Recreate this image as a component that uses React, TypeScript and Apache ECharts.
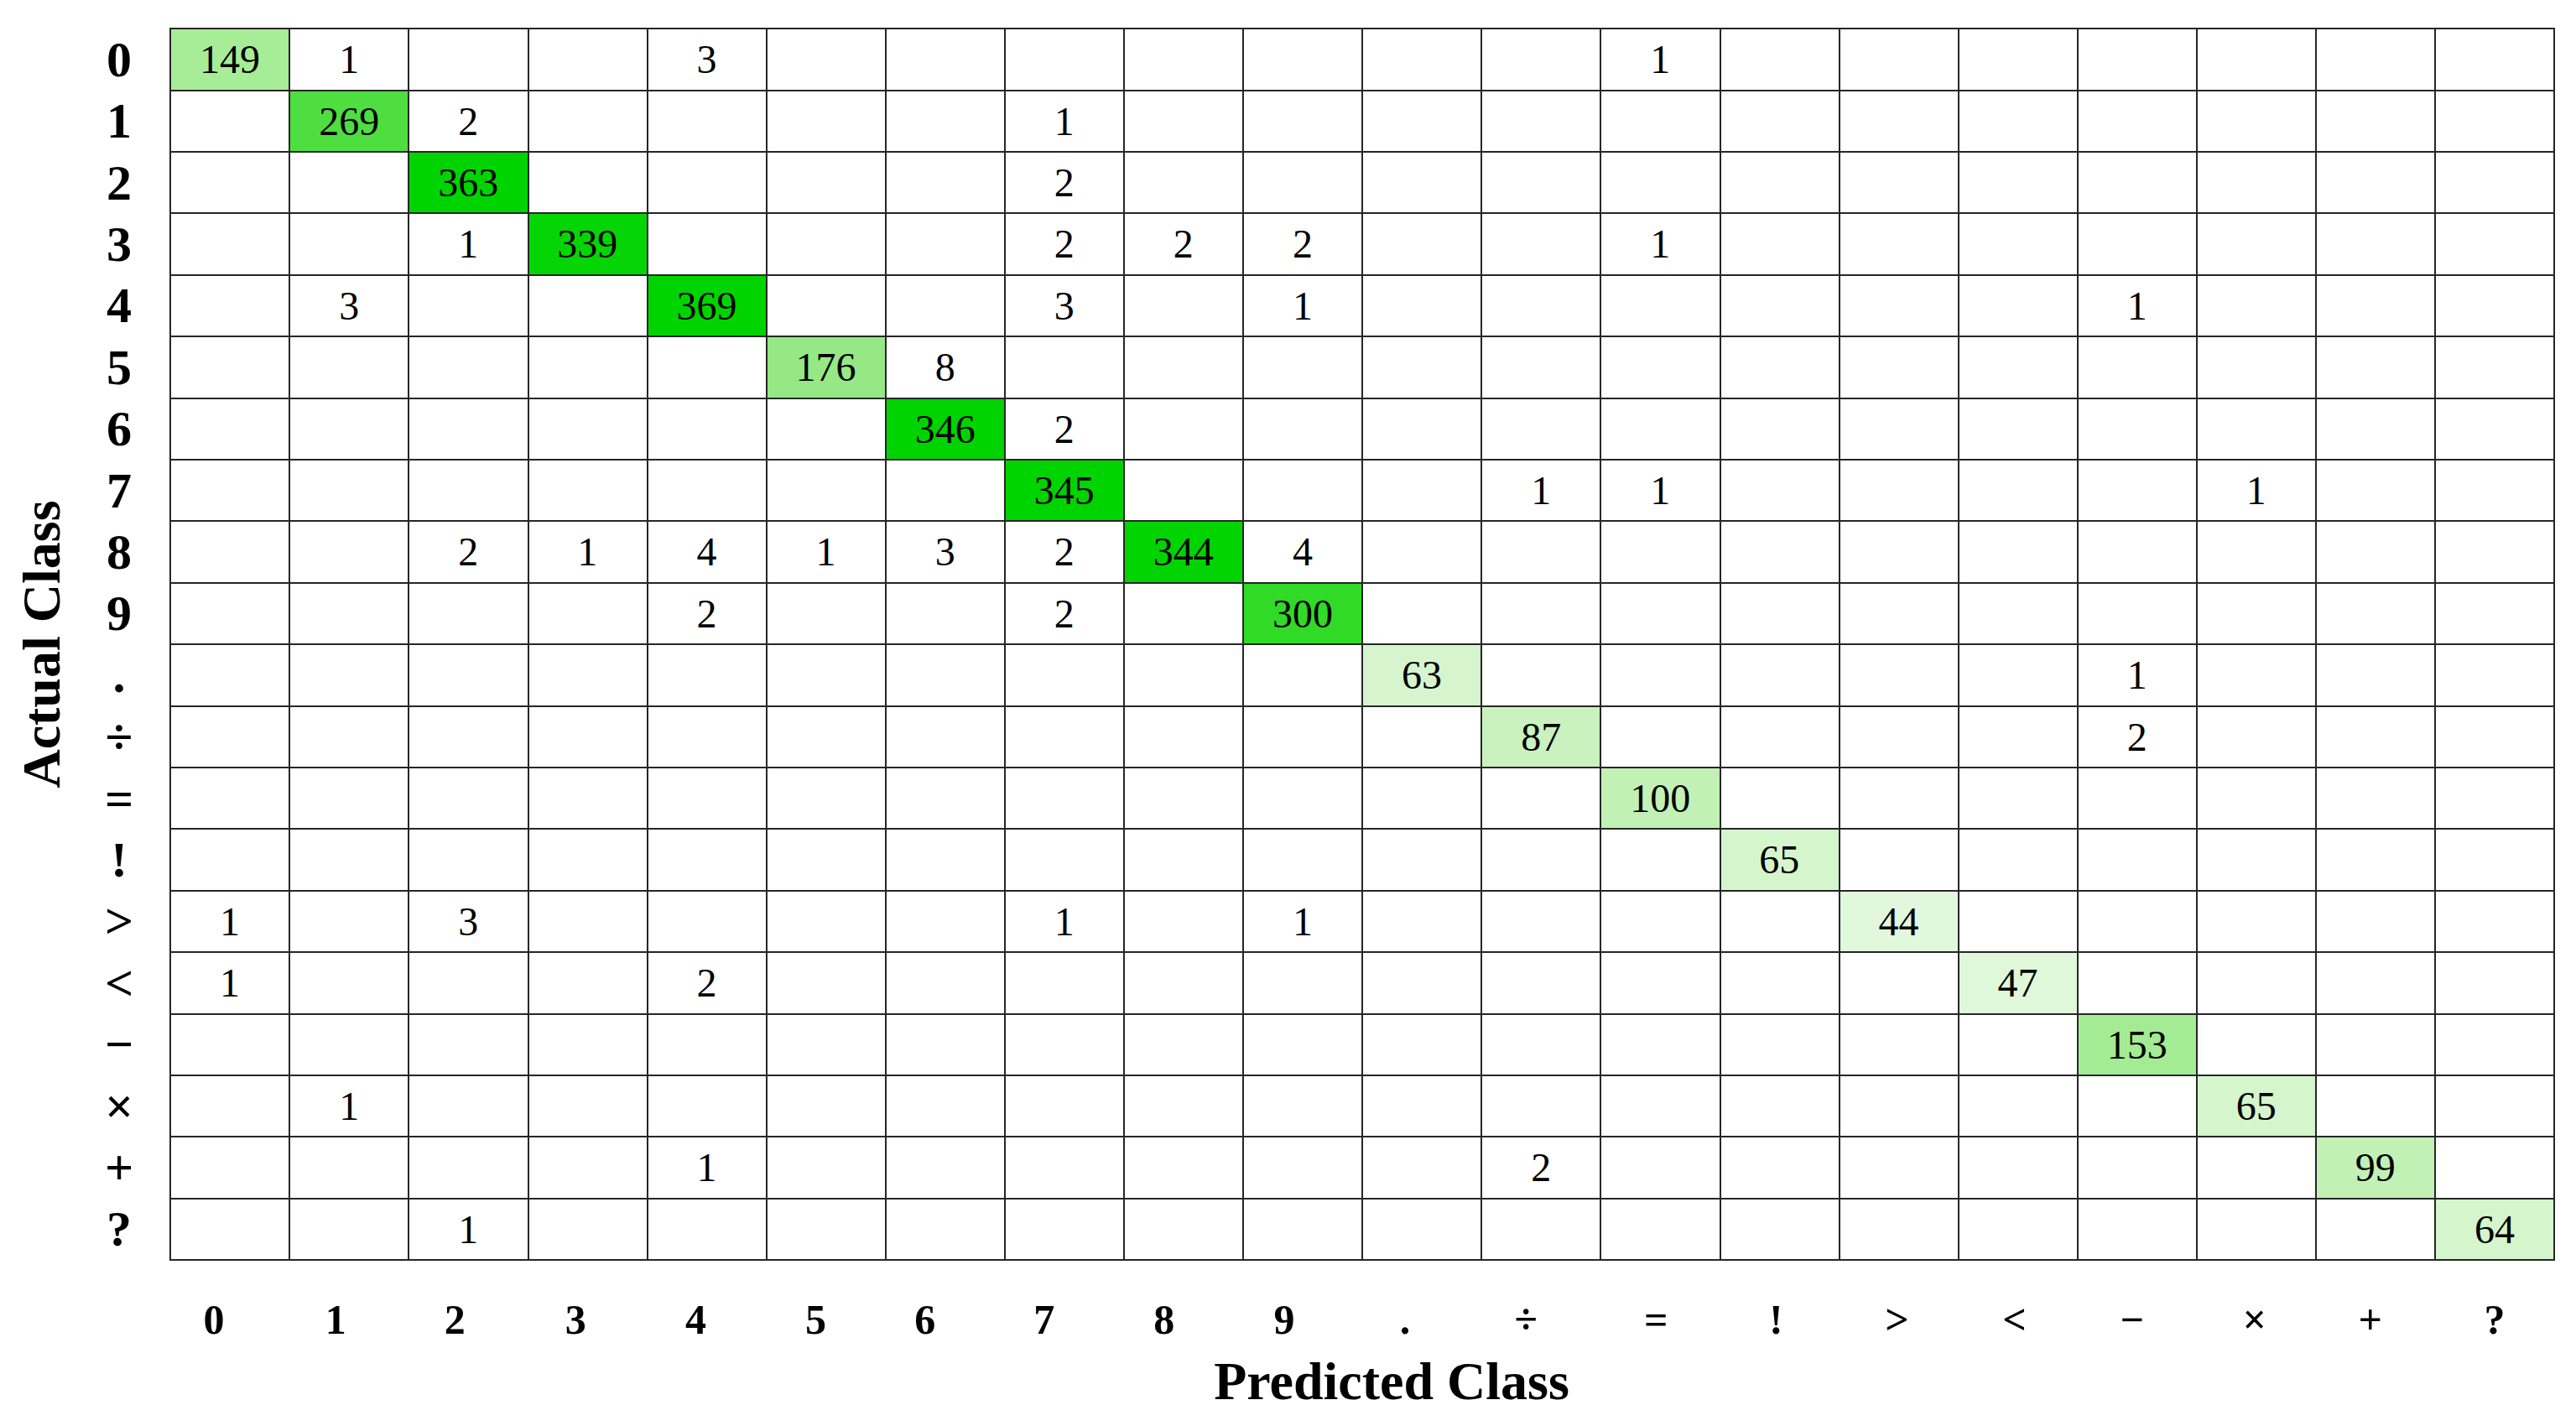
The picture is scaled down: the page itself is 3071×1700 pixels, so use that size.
import React, { useEffect, useRef } from "react";
import * as echarts from "echarts";

const classLabels = ["0", "1", "2", "3", "4", "5", "6", "7", "8", "9", ".", "÷", "=", "!", ">", "<", "−", "×", "+", "?"];

// rows = actual class, columns = predicted class
const counts: number[][] = [
  [149, 1, 0, 0, 3, 0, 0, 0, 0, 0, 0, 0, 1, 0, 0, 0, 0, 0, 0, 0],
  [0, 269, 2, 0, 0, 0, 0, 1, 0, 0, 0, 0, 0, 0, 0, 0, 0, 0, 0, 0],
  [0, 0, 363, 0, 0, 0, 0, 2, 0, 0, 0, 0, 0, 0, 0, 0, 0, 0, 0, 0],
  [0, 0, 1, 339, 0, 0, 0, 2, 2, 2, 0, 0, 1, 0, 0, 0, 0, 0, 0, 0],
  [0, 3, 0, 0, 369, 0, 0, 3, 0, 1, 0, 0, 0, 0, 0, 0, 1, 0, 0, 0],
  [0, 0, 0, 0, 0, 176, 8, 0, 0, 0, 0, 0, 0, 0, 0, 0, 0, 0, 0, 0],
  [0, 0, 0, 0, 0, 0, 346, 2, 0, 0, 0, 0, 0, 0, 0, 0, 0, 0, 0, 0],
  [0, 0, 0, 0, 0, 0, 0, 345, 0, 0, 0, 1, 1, 0, 0, 0, 0, 1, 0, 0],
  [0, 0, 2, 1, 4, 1, 3, 2, 344, 4, 0, 0, 0, 0, 0, 0, 0, 0, 0, 0],
  [0, 0, 0, 0, 2, 0, 0, 2, 0, 300, 0, 0, 0, 0, 0, 0, 0, 0, 0, 0],
  [0, 0, 0, 0, 0, 0, 0, 0, 0, 0, 63, 0, 0, 0, 0, 0, 1, 0, 0, 0],
  [0, 0, 0, 0, 0, 0, 0, 0, 0, 0, 0, 87, 0, 0, 0, 0, 2, 0, 0, 0],
  [0, 0, 0, 0, 0, 0, 0, 0, 0, 0, 0, 0, 100, 0, 0, 0, 0, 0, 0, 0],
  [0, 0, 0, 0, 0, 0, 0, 0, 0, 0, 0, 0, 0, 65, 0, 0, 0, 0, 0, 0],
  [1, 0, 3, 0, 0, 0, 0, 1, 0, 1, 0, 0, 0, 0, 44, 0, 0, 0, 0, 0],
  [1, 0, 0, 0, 2, 0, 0, 0, 0, 0, 0, 0, 0, 0, 0, 47, 0, 0, 0, 0],
  [0, 0, 0, 0, 0, 0, 0, 0, 0, 0, 0, 0, 0, 0, 0, 0, 153, 0, 0, 0],
  [0, 1, 0, 0, 0, 0, 0, 0, 0, 0, 0, 0, 0, 0, 0, 0, 0, 65, 0, 0],
  [0, 0, 0, 0, 1, 0, 0, 0, 0, 0, 0, 2, 0, 0, 0, 0, 0, 0, 99, 0],
  [0, 0, 1, 0, 0, 0, 0, 0, 0, 0, 0, 0, 0, 0, 0, 0, 0, 0, 0, 64],
];

const colorStops = ["#ffffff", "#d2f4c9", "#aeee9d", "#80e46e", "#4add3b", "#00d400"];

// leftward nudge (px) of each predicted-class tick label, as in the source figure
const xLabelShift = [19, 16, 16, 14, 13, 12, 24, 24, 23, 22, 20, 18, 5, 4, 2, 4, 6, 2, 6, 0];

const SERIF = "'Liberation Serif', 'Times New Roman', serif";
const LINE = "#262626";

export default function App() {
  const ref = useRef<HTMLDivElement>(null);

  useEffect(() => {
    if (!ref.current) return;
    const chart = echarts.init(ref.current, undefined, { renderer: "svg" });

    const diag: number[][] = [];
    const off: number[][] = [];
    counts.forEach((row, r) =>
      row.forEach((v, c) => {
        if (!v) return;
        (r === c ? diag : off).push([c, r, v]);
      })
    );

    const cellLabel = {
      show: true,
      formatter: (p: any) => String(p.value[2]),
      color: "#000",
      fontFamily: SERIF,
      fontSize: 48,
    };

    const xRich: Record<string, any> = {};
    xLabelShift.forEach((s, i) => {
      xRich["s" + i] = {
        fontFamily: SERIF,
        fontWeight: "bold",
        fontSize: 50,
        color: "#000",
        padding: [0, s * 2, 0, 0],
      };
    });

    chart.setOption({
      animation: false,
      backgroundColor: "#ffffff",
      grid: {
        left: 203,
        right: 26,
        top: 34,
        bottom: 198,
        show: true,
        z: 3,
        borderColor: LINE,
        borderWidth: 2,
        backgroundColor: "transparent",
      },
      xAxis: {
        type: "category",
        data: classLabels,
        position: "bottom",
        z: 3,
        axisLine: { show: false },
        axisTick: { show: false },
        splitLine: { show: true, interval: 0, lineStyle: { color: LINE, width: 2 } },
        axisLabel: {
          interval: 0,
          fontFamily: SERIF,
          fontWeight: "bold",
          fontSize: 50,
          color: "#000",
          margin: 46,
          formatter: (v: string, i: number) => `{s${i}|${v}}`,
          rich: xRich,
        },
        name: "Predicted Class",
        nameLocation: "middle",
        nameGap: 112,
        nameTextStyle: {
          fontFamily: SERIF,
          fontWeight: "bold",
          fontSize: 64,
          color: "#000",
          padding: [0, 0, 0, 70],
        },
      },
      yAxis: {
        type: "category",
        data: classLabels,
        inverse: true,
        z: 3,
        axisLine: { show: false },
        axisTick: { show: false },
        splitLine: { show: true, interval: 0, lineStyle: { color: LINE, width: 2 } },
        axisLabel: {
          interval: 0,
          fontFamily: SERIF,
          fontWeight: "bold",
          fontSize: 60,
          color: "#000",
          align: "center",
          margin: 61,
        },
        name: "Actual Class",
        nameLocation: "middle",
        nameGap: 122,
        nameTextStyle: {
          fontFamily: SERIF,
          fontWeight: "bold",
          fontSize: 64,
          color: "#000",
        },
      },
      visualMap: [
        {
          show: false,
          type: "continuous",
          min: 0,
          max: 345,
          dimension: 2,
          seriesIndex: 0,
          inRange: { color: colorStops },
        },
        {
          show: false,
          type: "continuous",
          min: 0,
          max: 345,
          dimension: 2,
          seriesIndex: 1,
          inRange: { color: ["#ffffff", "#ffffff"] },
        },
      ],
      series: [
        {
          type: "heatmap",
          data: diag,
          label: cellLabel,
          itemStyle: { borderWidth: 0 },
          emphasis: { disabled: true },
        },
        {
          type: "heatmap",
          data: off,
          label: cellLabel,
          itemStyle: { borderWidth: 0 },
          emphasis: { disabled: true },
        },
      ],
    });

    return () => chart.dispose();
  }, []);

  return (
    <div
      ref={ref}
      style={{ position: "fixed", left: 0, top: 0, width: 3071, height: 1700, background: "#fff" }}
    />
  );
}
